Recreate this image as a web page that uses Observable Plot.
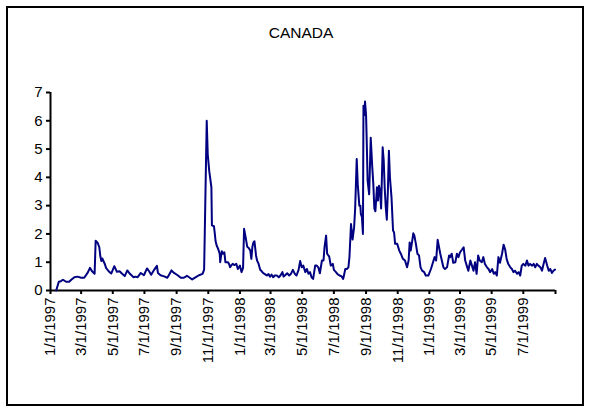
<!DOCTYPE html>
<html><head><meta charset="utf-8">
<script src="https://cdn.jsdelivr.net/npm/d3@7"></script>
<script src="https://cdn.jsdelivr.net/npm/@observablehq/plot@0.6"></script>
<style>
body{margin:0;background:#fff;font-family:"Liberation Sans",Arial,sans-serif;}
#wrap{position:relative;width:589px;height:408px;overflow:hidden;background:#fff;}
#frame{position:absolute;left:6px;top:6px;width:578px;height:400px;border:2px solid #000;box-sizing:border-box;}
#title{position:absolute;top:24px;left:0;width:602px;text-align:center;font-size:15.5px;color:#000;}
#chart{position:absolute;left:0;top:0;}
</style></head>
<body>
<div id="wrap"><div id="frame"></div><div id="title">CANADA</div><div id="chart"></div></div>
<script>
const title = "CANADA";
const yTicks = [0,1,2,3,4,5,6,7];
const xTickDates = ["1997-01-01","1997-03-01","1997-05-01","1997-07-01","1997-09-01","1997-11-01",
  "1998-01-01","1998-03-01","1998-05-01","1998-07-01","1998-09-01","1998-11-01",
  "1999-01-01","1999-03-01","1999-05-01","1999-07-01","1999-09-01"];
const xTickLabels = ["1/1/1997","3/1/1997","5/1/1997","7/1/1997","9/1/1997","11/1/1997",
  "1/1/1998","3/1/1998","5/1/1998","7/1/1998","9/1/1998","11/1/1998",
  "1/1/1999","3/1/1999","5/1/1999","7/1/1999",""];
const dates = [
"1997-01-12","1997-01-17","1997-01-21","1997-01-25","1997-01-31","1997-02-06","1997-02-10","1997-02-16","1997-02-22","1997-03-01",
"1997-03-07","1997-03-14","1997-03-18","1997-03-22","1997-03-27","1997-03-29","1997-04-02","1997-04-05","1997-04-07","1997-04-09",
"1997-04-11","1997-04-16","1997-04-18","1997-04-23","1997-04-28","1997-05-04","1997-05-09","1997-05-14","1997-05-19","1997-05-24",
"1997-05-29","1997-06-03","1997-06-10","1997-06-14","1997-06-18","1997-06-24","1997-06-30","1997-07-06","1997-07-10","1997-07-14",
"1997-07-20","1997-07-25","1997-07-27","1997-08-01","1997-08-08","1997-08-14","1997-08-17","1997-08-22","1997-08-27","1997-09-03",
"1997-09-09","1997-09-15","1997-09-21","1997-09-25","1997-10-01","1997-10-08","1997-10-14","1997-10-21","1997-10-24","1997-10-29",
"1997-10-31","1997-11-03","1997-11-07","1997-11-08","1997-11-12","1997-11-14","1997-11-15","1997-11-17","1997-11-20","1997-11-23",
"1997-11-24","1997-11-27","1997-11-29","1997-12-02","1997-12-04","1997-12-09","1997-12-11","1997-12-13","1997-12-15","1997-12-18",
"1997-12-21","1997-12-25","1997-12-28","1998-01-01","1998-01-04","1998-01-07","1998-01-09","1998-01-12","1998-01-15","1998-01-18",
"1998-01-21","1998-01-23","1998-01-25","1998-01-27","1998-01-29","1998-02-01","1998-02-03","1998-02-06","1998-02-09","1998-02-12",
"1998-02-15","1998-02-18","1998-02-22","1998-02-25","1998-02-28","1998-03-03","1998-03-06","1998-03-09","1998-03-13","1998-03-17",
"1998-03-20","1998-03-24","1998-03-26","1998-03-30","1998-04-02","1998-04-06","1998-04-09","1998-04-13","1998-04-17","1998-04-20",
"1998-04-24","1998-04-27","1998-04-30","1998-05-03","1998-05-07","1998-05-10","1998-05-13","1998-05-16","1998-05-19","1998-05-22",
"1998-05-26","1998-05-29","1998-06-01","1998-06-04","1998-06-08","1998-06-11","1998-06-13","1998-06-16","1998-06-18","1998-06-22",
"1998-06-25","1998-06-29","1998-07-01","1998-07-05","1998-07-08","1998-07-12","1998-07-16","1998-07-19","1998-07-23","1998-07-26",
"1998-07-29","1998-07-31","1998-08-03","1998-08-06","1998-08-09","1998-08-11","1998-08-14","1998-08-16","1998-08-19","1998-08-21",
"1998-08-22","1998-08-24","1998-08-26","1998-08-27","1998-08-29","1998-08-30","1998-09-01","1998-09-02","1998-09-04","1998-09-07",
"1998-09-10","1998-09-13","1998-09-15","1998-09-17","1998-09-19","1998-09-22","1998-09-24","1998-09-26","1998-09-28","1998-09-30",
"1998-10-03","1998-10-05","1998-10-07","1998-10-09","1998-10-11","1998-10-13","1998-10-15","1998-10-17","1998-10-20","1998-10-23",
"1998-10-25","1998-10-27","1998-10-31","1998-11-04","1998-11-07","1998-11-11","1998-11-15","1998-11-19","1998-11-22","1998-11-24",
"1998-11-26","1998-11-29","1998-12-01","1998-12-03","1998-12-06","1998-12-09","1998-12-12","1998-12-15","1998-12-18","1998-12-22",
"1998-12-25","1998-12-30","1999-01-04","1999-01-08","1999-01-11","1999-01-14","1999-01-17","1999-01-19","1999-01-22","1999-01-25",
"1999-01-28","1999-01-31","1999-02-04","1999-02-08","1999-02-10","1999-02-13","1999-02-16","1999-02-20","1999-02-23","1999-02-26",
"1999-03-01","1999-03-05","1999-03-08","1999-03-11","1999-03-14","1999-03-17","1999-03-21","1999-03-24","1999-03-27","1999-03-30",
"1999-04-02","1999-04-05","1999-04-08","1999-04-12","1999-04-15","1999-04-18","1999-04-22","1999-04-25","1999-04-28","1999-05-02",
"1999-05-05","1999-05-08","1999-05-11","1999-05-14","1999-05-17","1999-05-21","1999-05-24","1999-05-27","1999-05-30","1999-06-02",
"1999-06-06","1999-06-09","1999-06-12","1999-06-15","1999-06-19","1999-06-22","1999-06-25","1999-06-28","1999-07-01","1999-07-05",
"1999-07-08","1999-07-11","1999-07-14","1999-07-18","1999-07-21","1999-07-24","1999-07-27","1999-07-30","1999-08-03","1999-08-06",
"1999-08-09","1999-08-12","1999-08-16","1999-08-19","1999-08-22","1999-08-25","1999-08-28","1999-08-31"];
const values = [
0,0.31,0.33,0.38,0.31,0.31,0.38,0.47,0.49,0.45,
0.45,0.64,0.8,0.68,0.59,1.76,1.68,1.53,1.21,1.04,
1.13,0.92,0.8,0.68,0.6,0.86,0.66,0.68,0.59,0.51,
0.71,0.59,0.47,0.49,0.47,0.62,0.54,0.78,0.68,0.56,
0.74,0.87,0.62,0.54,0.5,0.45,0.54,0.71,0.62,0.54,
0.45,0.45,0.52,0.47,0.39,0.47,0.54,0.59,0.74,6.0,
4.8,4.2,3.65,2.3,2.27,1.94,1.75,1.6,1.47,1.3,
1.0,1.39,1.3,1.35,1.0,1.0,0.94,0.82,0.88,0.94,
0.9,0.94,0.76,0.88,0.65,0.8,2.18,1.88,1.55,1.5,
1.41,1.12,1.55,1.7,1.74,1.24,1.06,0.94,0.73,0.68,
0.61,0.58,0.53,0.58,0.49,0.56,0.47,0.53,0.53,0.47,
0.53,0.65,0.49,0.56,0.61,0.53,0.58,0.73,0.58,0.53,
0.73,1.04,0.82,0.88,0.65,0.76,0.59,0.65,0.47,0.41,
0.88,0.88,0.82,0.61,1.06,1.06,1.53,1.94,1.3,1.2,
0.88,0.94,0.73,0.65,0.58,0.53,0.5,0.41,0.76,0.76,
0.82,1.18,2.35,1.8,2.24,2.9,4.65,3.76,3.0,3.0,
2.7,2.6,2.0,6.53,6.2,6.68,6.2,5.5,3.88,3.4,
5.4,4.35,3.76,2.9,2.8,3.65,3.18,3.7,3.5,2.9,
5.06,4.6,3.6,2.94,2.5,3.5,4.94,4.0,3.3,2.12,
2.05,1.65,1.65,1.41,1.3,1.12,1.06,0.82,1.06,1.7,
1.41,1.76,2.02,1.95,1.65,1.3,1.24,0.82,0.7,0.65,
0.53,0.53,0.76,1.0,1.18,1.06,1.79,1.59,1.3,1.06,
0.82,0.76,0.82,1.24,1.18,1.3,0.98,1.0,1.3,1.18,
1.35,1.45,1.53,1.06,0.88,0.7,1.06,0.88,0.7,1.0,
0.59,1.24,1.06,1.0,1.18,0.94,0.82,0.76,0.65,0.76,
0.59,0.65,0.53,1.18,0.98,1.3,1.62,1.45,1.1,0.94,
0.82,0.76,0.65,0.7,0.59,0.65,0.53,0.88,0.94,0.88,
1.06,0.88,0.94,0.88,0.94,0.82,0.94,0.88,0.82,0.7,
0.94,1.15,0.88,0.7,0.76,0.62,0.7,0.74];

const parse = s => new Date(s + "T00:00:00Z");
const data = dates.map((d, i) => ({date: parse(d), value: values[i]}));
const ticks = xTickDates.map(parse);
const labelOf = new Map(xTickDates.map((d, i) => [+parse(d), xTickLabels[i]]));

const chart = Plot.plot({
  width: 589, height: 408,
  marginLeft: 50, marginRight: 34, marginTop: 92, marginBottom: 118,
  x: {type: "utc", domain: [ticks[0], ticks[ticks.length - 1]]},
  y: {domain: [0, 7]},
  style: {fontFamily: "'Liberation Sans', Arial, sans-serif", fontSize: "15px", color: "#000", background: "transparent"},
  marks: [
    Plot.axisY({ticks: yTicks, tickSize: 4, tickPadding: 4, strokeWidth: 2, fontSize: 15, tickFormat: d => String(d), label: null}),
    Plot.axisX({ticks: ticks, tickSize: 4, tickPadding: 3, strokeWidth: 2, tickRotate: -90, fontSize: 15,
      tickFormat: d => labelOf.get(+d), label: null}),
    Plot.ruleX([ticks[0]], {stroke: "#000", strokeWidth: 2}),
    Plot.ruleY([0], {stroke: "#000", strokeWidth: 2}),
    Plot.lineY(data, {x: "date", y: "value", stroke: "#000080", strokeWidth: 2})
  ]
});
document.getElementById("chart").appendChild(chart);
</script>
</body></html>
